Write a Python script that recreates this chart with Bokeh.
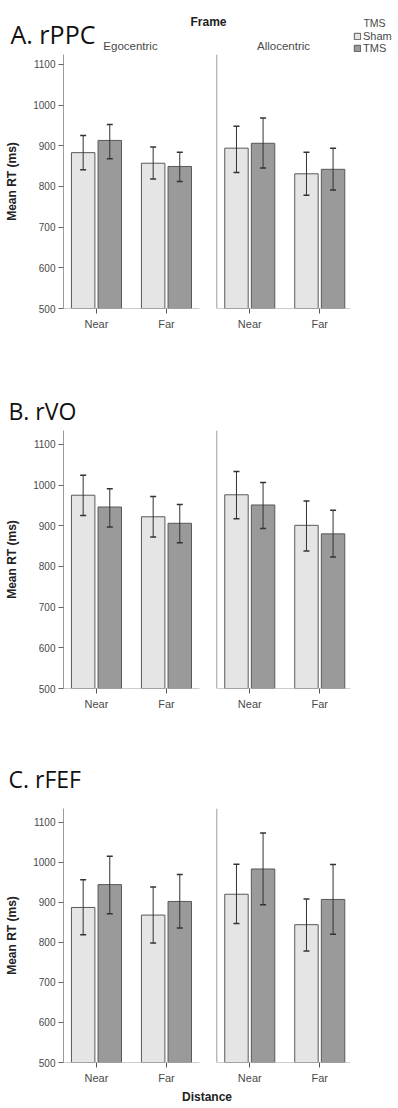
from bokeh.plotting import figure
from bokeh.models import (ColumnDataSource, Whisker, TeeHead, FixedTicker, Label,
                          Legend, LegendItem, Range1d)
from bokeh.layouts import column
from bokeh.embed import file_html
from bokeh.resources import INLINE

# ---------------- data ----------------
panels = ["A. rPPC", "B. rVO", "C. rFEF"]
frames = ["Egocentric", "Allocentric"]
distances = ["Near", "Far"]
conditions = ["Sham", "TMS"]
y_ticks = [500, 600, 700, 800, 900, 1000, 1100]

# order of groups: Egocentric-Near, Egocentric-Far, Allocentric-Near, Allocentric-Far
rppc_sham = [883, 857, 894, 831]
rppc_sham_lo = [841, 818, 834, 778]
rppc_sham_hi = [925, 897, 948, 884]
rppc_tms = [913, 849, 906, 842]
rppc_tms_lo = [868, 812, 845, 791]
rppc_tms_hi = [952, 884, 968, 894]

rvo_sham = [975, 922, 976, 901]
rvo_sham_lo = [925, 872, 917, 838]
rvo_sham_hi = [1024, 972, 1033, 961]
rvo_tms = [946, 906, 951, 880]
rvo_tms_lo = [897, 858, 893, 823]
rvo_tms_hi = [991, 952, 1006, 938]

rfef_sham = [887, 868, 920, 844]
rfef_sham_lo = [819, 798, 847, 778]
rfef_sham_hi = [956, 938, 995, 908]
rfef_tms = [944, 902, 983, 907]
rfef_tms_lo = [871, 836, 894, 820]
rfef_tms_hi = [1015, 969, 1073, 994]

panel_data = [
    (rppc_sham, rppc_sham_lo, rppc_sham_hi, rppc_tms, rppc_tms_lo, rppc_tms_hi),
    (rvo_sham, rvo_sham_lo, rvo_sham_hi, rvo_tms, rvo_tms_lo, rvo_tms_hi),
    (rfef_sham, rfef_sham_lo, rfef_sham_hi, rfef_tms, rfef_tms_lo, rfef_tms_hi),
]

# ---------------- layout / style ----------------
W = 398
FACET_STEP = 2.19
HALF = 0.471
DODGE = 0.19
BAR_W = 0.335
X_START = -HALF
X_END = FACET_STEP + 1 + 0.439
Y_START = 500
PX_PER_UNIT = 258 / 634.0

SHAM_FILL = "#e5e5e5"
TMS_FILL = "#9a9a9a"
BAR_LINE = "#595959"
ERR_COLOR = "#333333"
AXIS_GREY = "#9c9c9c"
TXT = "#4a4a4a"
SANS = "Liberation Sans"
TITLE_FONT = "Open Sans"

group_x = [f * FACET_STEP + d for f in range(len(frames)) for d in range(len(distances))]
group_labels = [d for f in frames for d in distances]

header_h = [54, 90, 90]
frame_h = [254, 258, 258]
bottom_b = [32, 30, 40]
title_size = ["25px", "23px", "23px"]
title_x = [10, 8, 8]
title_base = [21, 20, 30]


def blank(h):
    p = figure(width=W, height=h, output_backend="svg", toolbar_location=None,
               x_range=Range1d(0, W), y_range=Range1d(0, h),
               x_axis_location=None, y_axis_location=None,
               min_border=0, frame_align=False)
    p.xgrid.grid_line_color = None
    p.ygrid.grid_line_color = None
    p.outline_line_color = None
    p.background_fill_color = "white"
    p.border_fill_color = "white"
    return p


def make_header(i):
    h = blank(header_h[i])
    hh = header_h[i]
    h.add_layout(Label(x=title_x[i], y=title_base[i], text=panels[i],
                       text_font=TITLE_FONT, text_font_size=title_size[i],
                       text_color="#111111", text_baseline="alphabetic"))
    if i == 0:
        h.add_layout(Label(x=208, y=hh - 21, text="Frame", text_font=SANS,
                           text_font_size="12px", text_font_style="bold",
                           text_color="#222222", text_align="center",
                           text_baseline="alphabetic"))
        for f, fx in zip(frames, [130, 283]):
            h.add_layout(Label(x=fx, y=hh - 45, text=f, text_font=SANS,
                               text_font_size="11.5px", text_color=TXT,
                               text_align="center", text_baseline="alphabetic"))
        h.add_layout(Label(x=374, y=hh - 22, text="TMS", text_font=SANS,
                           text_font_size="10.5px", text_color=TXT,
                           text_align="center", text_baseline="alphabetic"))
        # legend keys: the panel's bar series, not drawn here (only their legend swatches)
        sham, _, _, tms, _, _ = panel_data[0]
        rs = h.vbar(x=group_x, top=sham, width=BAR_W, fill_color=SHAM_FILL,
                    line_color=BAR_LINE, visible=False)
        rt = h.vbar(x=group_x, top=tms, width=BAR_W, fill_color=TMS_FILL,
                    line_color=BAR_LINE, visible=False)
        leg = Legend(items=[LegendItem(label=conditions[0], renderers=[rs]),
                            LegendItem(label=conditions[1], renderers=[rt])],
                     location=(353, 0), padding=0, margin=0, spacing=0,
                     glyph_width=8, glyph_height=8, label_height=12,
                     label_standoff=2, label_text_font=SANS,
                     label_text_font_size="11px", label_text_color=TXT,
                     border_line_color=None, background_fill_alpha=0,
                     inactive_fill_alpha=0)
        h.add_layout(leg)
    return h


def make_panel(i):
    sham, sham_lo, sham_hi, tms, tms_lo, tms_hi = panel_data[i]
    y_end = Y_START + frame_h[i] / PX_PER_UNIT
    p = figure(width=W, height=frame_h[i] + bottom_b[i], output_backend="svg",
               toolbar_location=None,
               x_range=Range1d(X_START, X_END), y_range=Range1d(Y_START, y_end),
               min_border_left=63, min_border_right=48,
               min_border_top=0, min_border_bottom=bottom_b[i],
               frame_align=False)
    p.xgrid.visible = False
    p.ygrid.visible = False
    p.outline_line_color = None
    p.background_fill_color = "white"
    p.border_fill_color = "white"

    src_s = ColumnDataSource(dict(x=[g - DODGE for g in group_x], top=sham,
                                  lo=sham_lo, hi=sham_hi))
    src_t = ColumnDataSource(dict(x=[g + DODGE for g in group_x], top=tms,
                                  lo=tms_lo, hi=tms_hi))
    p.vbar(x="x", top="top", bottom=Y_START, width=BAR_W, source=src_s,
           fill_color=SHAM_FILL, line_color=BAR_LINE, line_width=1)
    p.vbar(x="x", top="top", bottom=Y_START, width=BAR_W, source=src_t,
           fill_color=TMS_FILL, line_color=BAR_LINE, line_width=1)
    for src in (src_s, src_t):
        w = Whisker(base="x", upper="hi", lower="lo", source=src, level="annotation",
                    line_color=ERR_COLOR, line_width=1,
                    upper_head=TeeHead(size=6, line_color=ERR_COLOR, line_width=1.5),
                    lower_head=TeeHead(size=6, line_color=ERR_COLOR, line_width=1.5))
        p.add_layout(w)

    # facet frame lines: baselines and the right facet's left edge
    p.segment(x0=[X_START, FACET_STEP - HALF], y0=[Y_START, Y_START],
              x1=[1 + HALF, X_END], y1=[Y_START, Y_START],
              line_color=AXIS_GREY, line_width=1)
    p.segment(x0=[FACET_STEP - HALF], y0=[Y_START], x1=[FACET_STEP - HALF], y1=[y_end],
              line_color=AXIS_GREY, line_width=1)

    ya = p.yaxis[0]
    ya.ticker = FixedTicker(ticks=y_ticks)
    ya.minor_tick_line_color = None
    ya.axis_line_color = AXIS_GREY
    ya.major_tick_line_color = "#666666"
    ya.major_tick_out = 5
    ya.major_tick_in = 0
    ya.major_label_standoff = 3
    ya.major_label_text_font = SANS
    ya.major_label_text_font_size = "10px"
    ya.major_label_text_color = TXT
    ya.axis_label = "Mean RT (ms)"
    ya.axis_label_text_font = SANS
    ya.axis_label_text_font_size = "12px"
    ya.axis_label_text_font_style = "bold"
    ya.axis_label_text_color = "#222222"
    ya.axis_label_standoff = 11

    xa = p.xaxis[0]
    xa.ticker = FixedTicker(ticks=group_x)
    xa.major_label_overrides = {g: lab for g, lab in zip(group_x, group_labels)}
    xa.minor_tick_line_color = None
    xa.axis_line_color = None
    xa.major_tick_line_color = "#555555"
    xa.major_tick_out = 5
    xa.major_tick_in = 0
    xa.major_label_standoff = 4
    xa.major_label_text_font = SANS
    xa.major_label_text_font_size = "11px"
    xa.major_label_text_color = TXT
    if i == 2:
        xa.axis_label = "Distance"
        xa.axis_label_text_font = SANS
        xa.axis_label_text_font_size = "12px"
        xa.axis_label_text_font_style = "bold"
        xa.axis_label_text_color = "#222222"
        xa.axis_label_standoff = 3
    return p


items = []
for i in range(3):
    items.append(make_header(i))
    items.append(make_panel(i))

layout = column(*items, spacing=0)
open("out.html", "w").write(file_html(layout, INLINE))
